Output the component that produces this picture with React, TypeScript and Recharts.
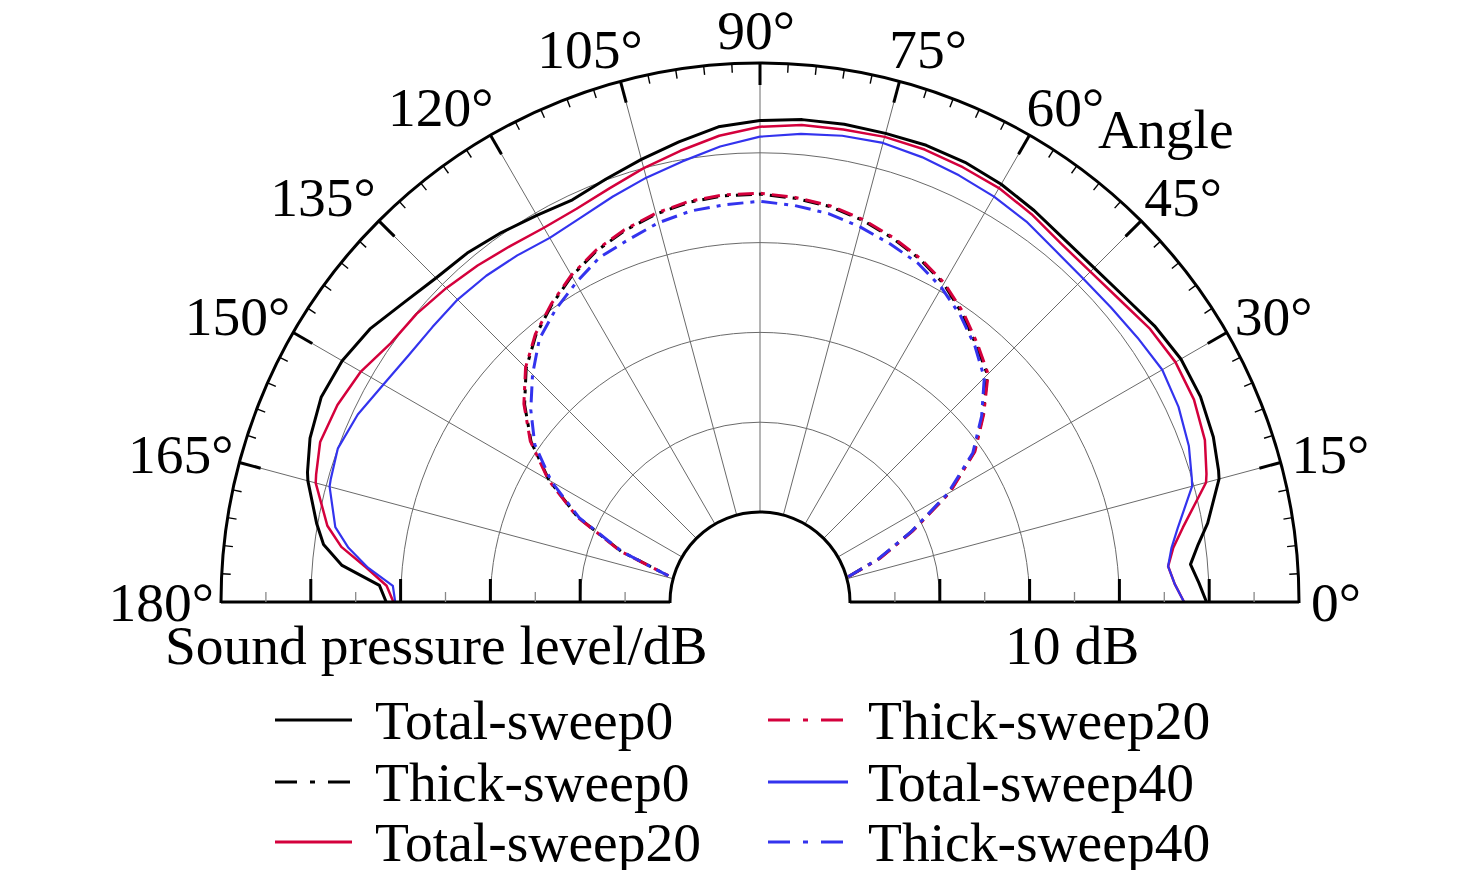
import React from 'react';
import { RadarChart, Radar, PolarGrid, PolarAngleAxis, PolarRadiusAxis, Legend } from 'recharts';

// ---------- data ----------
const angles = [0, 2.5, 5, 7.5, 10, 15, 16, 20, 25, 30, 35, 40, 45, 50, 55, 60, 65, 70, 75, 80, 85, 90, 95, 100, 105, 110, 115, 120, 125, 130, 135, 140, 145, 150, 155, 160, 164, 165, 170, 172.5, 175, 177.5, 180];

const totalSweep0 = [39.7, 38.9, 38.1, 39.2, 40.6, 42.9, 43.1, 43.7, 44.1, 44.1, 43.6, 42.9, 42.6, 42.7, 43.2, 43.7, 44.0, 44.1, 44.0, 44.0, 43.9, 43.6, 43.1, 42.0, 41.0, 40.1, 39.4, 39.7, 40.2, 40.7, 41.0, 41.8, 43.0, 43.7, 43.9, 43.3, 42.4, 42.1, 40.1, 39.0, 36.7, 32.4, 31.6];
const totalSweep20 = [37.2, 36.2, 35.6, 36.4, 37.8, 41.4, 41.7, 42.7, 43.3, 43.4, 43.0, 42.3, 42.0, 42.1, 42.7, 43.2, 43.4, 43.6, 43.6, 43.4, 43.3, 42.9, 42.1, 41.0, 40.0, 39.0, 38.3, 38.1, 38.4, 38.9, 39.4, 39.9, 40.2, 41.3, 41.9, 42.1, 41.4, 41.2, 38.9, 37.0, 34.0, 31.6, 30.8];
const totalSweep40 = [37.2, 36.2, 35.6, 36.2, 37.2, 39.8, 40.0, 40.8, 41.4, 41.7, 41.3, 41.0, 40.9, 41.1, 41.7, 42.1, 42.4, 42.7, 42.9, 42.7, 42.3, 41.8, 40.9, 39.8, 38.9, 38.0, 37.2, 36.8, 37.1, 37.4, 37.6, 37.6, 37.8, 38.4, 39.4, 40.0, 39.7, 39.6, 38.0, 36.2, 33.8, 30.9, 30.6];
const thickSweep0 = [null, null, null, null, null, null, 0.2, 4.1, 8.7, 14.3, 19.1, 22.4, 25.8, 27.4, 29.2, 30.9, 32.1, 33.1, 34.0, 34.7, 35.1, 35.4, 35.4, 35.2, 34.7, 34.0, 33.1, 31.9, 30.4, 28.8, 26.8, 24.2, 21.1, 17.1, 12.4, 6.4, 0.6, null, null, null, null, null, null];
const thickSweep20 = [null, null, null, null, null, null, 0.2, 4.2, 8.8, 14.4, 19.2, 22.5, 25.9, 27.6, 29.4, 31.0, 32.2, 33.2, 34.1, 34.8, 35.2, 35.5, 35.5, 35.3, 34.8, 34.1, 33.2, 32.0, 30.5, 28.9, 26.9, 24.3, 21.2, 17.2, 12.5, 6.5, 0.6, null, null, null, null, null, null];
const thickSweep40 = [null, null, null, null, null, null, 0.2, 4.0, 8.6, 14.1, 18.9, 22.2, 25.3, 27.2, 28.9, 30.4, 31.6, 32.4, 33.2, 33.9, 34.3, 34.6, 34.4, 34.2, 33.7, 32.9, 32.3, 31.0, 29.7, 28.2, 25.8, 23.3, 20.6, 16.8, 12.2, 6.3, 0.6, null, null, null, null, null, null];

const angleTicks = [0, 3, 6, 9, 12, 15, 18, 21, 24, 27, 30, 33, 36, 39, 42, 45, 48, 51, 54, 57, 60, 63, 66, 69, 72, 75, 78, 81, 84, 87, 90, 93, 96, 99, 102, 105, 108, 111, 114, 117, 120, 123, 126, 129, 132, 135, 138, 141, 144, 147, 150, 153, 156, 159, 162, 165, 168, 171, 174, 177, 180];
const gridAngles = [0, 15, 30, 45, 60, 75, 90, 105, 120, 135, 150, 165, 180];
const radiusTicks = [0, 5, 10, 15, 20, 25, 30, 35, 40, 45, 50];
const ringValues = [10, 20, 30, 40];
const radiusDomain: [number, number] = [0, 50];

// ---------- layout / style ----------
const W = 1460;
const H = 862;
const CX = 752;
const CY = 594;
const R_IN = 90;
const R_OUT = 539;
const FONT = "'Liberation Serif', 'Times New Roman', Times, serif";
const FS = 55.5;
const RED = '#d4003c';
const BLUE = '#3333ee';
const DASH = '16 7 4 7';

const series = [
  { key: 'totalSweep0', name: 'Total-sweep0', color: '#000000', width: 3, dash: undefined as string | undefined, axis: 'right' },
  { key: 'thickSweep0', name: 'Thick-sweep0', color: '#000000', width: 3, dash: DASH, axis: 'left' },
  { key: 'totalSweep20', name: 'Total-sweep20', color: RED, width: 2.5, dash: undefined, axis: 'right' },
  { key: 'thickSweep20', name: 'Thick-sweep20', color: RED, width: 3, dash: DASH, axis: 'left' },
  { key: 'totalSweep40', name: 'Total-sweep40', color: BLUE, width: 2.2, dash: undefined, axis: 'right' },
  { key: 'thickSweep40', name: 'Thick-sweep40', color: BLUE, width: 3, dash: DASH, axis: 'left' },
];

const data = angles.map((a, i) => ({
  angle: a,
  totalSweep0: totalSweep0[i],
  thickSweep0: thickSweep0[i],
  totalSweep20: totalSweep20[i],
  thickSweep20: thickSweep20[i],
  totalSweep40: totalSweep40[i],
  thickSweep40: thickSweep40[i],
}));

const ringRadii = ringValues.map((v) => R_IN + ((v - radiusDomain[0]) / (radiusDomain[1] - radiusDomain[0])) * (R_OUT - R_IN));

// open (not closed) curve through the points Recharts computed for a Radar
function OpenCurve(props: any) {
  const pts = props.points || [];
  let d = '';
  let pen = false;
  pts.forEach((p: any) => {
    const ok = p && p.value !== null && p.value !== undefined && Number.isFinite(p.x) && Number.isFinite(p.y);
    if (!ok) {
      pen = false;
      return;
    }
    d += `${pen ? 'L' : 'M'}${p.x},${p.y}`;
    pen = true;
  });
  return (
    <path
      d={d}
      fill="none"
      stroke={props.stroke}
      strokeWidth={props.strokeWidth}
      strokeDasharray={props.strokeDasharray}
      strokeLinejoin="round"
    />
  );
}

function AngleTick(props: any) {
  const { x, y, payload } = props;
  const deg = payload.value;
  const rad = (payload.coordinate * Math.PI) / 180;
  const c = Math.cos(rad);
  const s = Math.sin(rad);
  const ux = c;
  const uy = -s;
  const px = x - ux * 1;
  const py = y - uy * 1;
  const major = deg % 15 === 0;
  const len = major ? 22 : 9;
  const showLine = deg > 0 && deg < 180;
  let label = null;
  if (major) {
    const g = 30 * Math.abs(c) - 18;
    let anchor: 'start' | 'middle' | 'end' = 'middle';
    let tx = px - 4;
    if (c > 0.1) {
      anchor = 'start';
      tx = px + g;
    } else if (c < -0.1) {
      anchor = 'end';
      tx = px - g + (c < -0.8 ? 5 : c > -0.3 ? 12 : 0);
    }
    const ty = py - 33 * s + 0.34 * FS;
    label = (
      <text x={tx} y={ty} textAnchor={anchor} fontFamily={FONT} fontSize={FS} fill="#000">
        {`${deg}°`}
      </text>
    );
  }
  return (
    <g>
      {showLine && (
        <line
          x1={px}
          y1={py}
          x2={px - ux * len}
          y2={py - uy * len}
          stroke="#000"
          strokeWidth={major ? 3 : 1.4}
        />
      )}
      {label}
    </g>
  );
}

function RadiusTick(props: any) {
  const { x, y, payload } = props;
  const v = payload.value;
  if (v <= radiusDomain[0] || v >= radiusDomain[1]) return <g />;
  const major = v % 10 === 0;
  return (
    <line
      x1={x}
      y1={y}
      x2={x}
      y2={y - (major ? 23 : 10)}
      stroke={major ? '#000' : '#888'}
      strokeWidth={major ? 3 : 1.3}
    />
  );
}

function LegendContent(props: any) {
  const payload = props.payload || [];
  const rowY = [30, 92, 152];
  const cols = [
    { x1: 267, x2: 344, tx: 367 },
    { x1: 760, x2: 840, tx: 860 },
  ];
  return (
    <svg width={W} height={190} style={{ display: 'block', overflow: 'visible' }}>
      {payload.map((entry: any, i: number) => {
        const cfg = series.find((s) => s.name === entry.value) || series[i];
        const idx = series.indexOf(cfg);
        const col = cols[idx < 3 ? 0 : 1];
        const y = rowY[idx % 3];
        return (
          <g key={cfg.key}>
            <line
              x1={col.x1}
              y1={y}
              x2={col.x2}
              y2={y}
              stroke={cfg.color}
              strokeWidth={3}
              strokeDasharray={cfg.dash ? '22 13 5 13' : undefined}
            />
            <text x={col.tx} y={y + 19} fontFamily={FONT} fontSize={FS} fill="#000">
              {cfg.name}
            </text>
          </g>
        );
      })}
    </svg>
  );
}

export default function App() {
  return (
    <div style={{ position: 'relative', width: W, height: H, background: '#fff', fontFamily: FONT }}>
      <style>{`.recharts-polar-grid { clip-path: url(#upperHalfClip); }`}</style>
      <svg width={0} height={0} style={{ position: 'absolute' }}>
        <defs>
          <clipPath id="upperHalfClip" clipPathUnits="userSpaceOnUse">
            <rect x={-20} y={-20} width={W + 40} height={CY + 20 + 1} />
          </clipPath>
        </defs>
      </svg>
      <RadarChart
        width={W}
        height={H}
        data={data}
        cx={CX}
        cy={CY}
        innerRadius={R_IN}
        outerRadius={R_OUT}
        startAngle={0}
        endAngle={180}
        margin={{ top: 0, right: 0, bottom: 0, left: 0 }}
      >
        <PolarGrid
          gridType="circle"
          polarAngles={gridAngles}
          polarRadius={ringRadii}
          stroke="#6a6a6a"
          strokeWidth={1}
        />
        <PolarAngleAxis
          dataKey="angle"
          type="number"
          domain={[0, 180]}
          ticks={angleTicks as any}
          tickCount={61}
          tickSize={1}
          axisLine={false}
          tickLine={false}
          tick={<AngleTick />}
        />
        <PolarRadiusAxis
          radiusAxisId="right"
          angle={0}
          type="number"
          domain={radiusDomain}
          allowDataOverflow
          ticks={radiusTicks as any}
          tickCount={11}
          axisLine={{ stroke: '#000', strokeWidth: 3 }}
          stroke="#000"
          tick={<RadiusTick />}
        />
        <PolarRadiusAxis
          radiusAxisId="left"
          angle={180}
          type="number"
          domain={radiusDomain}
          allowDataOverflow
          ticks={radiusTicks as any}
          tickCount={11}
          axisLine={{ stroke: '#000', strokeWidth: 3 }}
          stroke="#000"
          tick={<RadiusTick />}
        />
        {series.map((s) => (
          <Radar
            key={s.key}
            name={s.name}
            dataKey={s.key}
            radiusAxisId={s.axis}
            stroke={s.color}
            strokeWidth={s.width}
            strokeDasharray={s.dash}
            fill="none"
            fillOpacity={0}
            dot={false}
            legendType="line"
            shape={OpenCurve as any}
            isAnimationActive={false}
          />
        ))}
        <PolarGrid
          gridType="circle"
          polarAngles={[]}
          polarRadius={[R_IN, R_OUT]}
          radialLines={false}
          stroke="#000"
          strokeWidth={3}
        />
        <Legend
          content={<LegendContent />}
          wrapperStyle={{ position: 'absolute', left: 0, top: 682, bottom: 'auto', width: W, height: 190 }}
        />
      </RadarChart>
      <svg
        width={W}
        height={H}
        style={{ position: 'absolute', left: 0, top: 0, pointerEvents: 'none' }}
      >
        <text x={157} y={656} fontFamily={FONT} fontSize={FS} fill="#000">
          Sound pressure level/dB
        </text>
        <text x={997} y={656} fontFamily={FONT} fontSize={FS} fill="#000">
          10 dB
        </text>
        <text x={1090} y={140} fontFamily={FONT} fontSize={FS} fill="#000">
          Angle
        </text>
      </svg>
    </div>
  );
}
